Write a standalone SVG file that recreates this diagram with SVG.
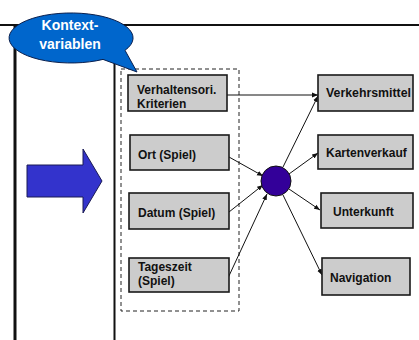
<svg xmlns="http://www.w3.org/2000/svg" width="419" height="340" viewBox="0 0 419 340">
<style>
.box{fill:#cccccc;stroke:#1a1a1a;stroke-width:1.6}
.t{font-family:"Liberation Sans",Arial,sans-serif;font-weight:bold;font-size:12px;fill:#111}
.c{stroke:#111;stroke-width:1;fill:none;marker-end:url(#ah)}
</style>
<defs>
<marker id="ah" viewBox="0 0 10 10" refX="10" refY="5" markerWidth="6" markerHeight="6" orient="auto" markerUnits="userSpaceOnUse">
<path d="M0,1 L10,5 L0,9 Z" fill="#111"/>
</marker>
</defs>
<rect width="419" height="340" fill="#ffffff"/>
<g id="frame">
<line x1="0" y1="25" x2="419" y2="25" stroke="#111" stroke-width="2"/>
<line x1="15" y1="25" x2="15" y2="340" stroke="#111" stroke-width="3"/>
<line x1="114.5" y1="25" x2="114.5" y2="340" stroke="#111" stroke-width="2"/>
<rect x="121" y="69" width="118" height="242" fill="none" stroke="#222" stroke-width="1" stroke-dasharray="4,3"/>
</g>
<g id="bigarrow">
<polygon points="27,165 83,165 83,149 102,181 83,213 83,197 27,197" fill="#3333cc" stroke="#1a1a55" stroke-width="1"/>
</g>
<g id="bubble">
<path d="M125,50.3 L137,72 L103,59.4 A62,25 0 1 1 125,50.3 Z" fill="#0066cc" stroke="#0a1f4d" stroke-width="1"/>
<text x="70" y="30" text-anchor="middle" font-family="'Liberation Sans',Arial,sans-serif" font-weight="bold" font-size="14" fill="#ffffff">Kontext-</text>
<text x="70" y="49" text-anchor="middle" font-family="'Liberation Sans',Arial,sans-serif" font-weight="bold" font-size="14" fill="#ffffff">variablen</text>
</g>
<g id="connectors">
<line class="c" x1="227" y1="95" x2="318" y2="95"/>
<line class="c" x1="229" y1="157" x2="263" y2="176"/>
<line class="c" x1="229" y1="212" x2="263" y2="185"/>
<line class="c" x1="228" y1="278" x2="267" y2="194"/>
<line class="c" x1="283" y1="167" x2="318" y2="96"/>
<line class="c" x1="289" y1="174" x2="318" y2="153"/>
<line class="c" x1="289" y1="189" x2="320" y2="210"/>
<line class="c" x1="283" y1="195" x2="322" y2="275"/>
</g>
<g id="hub">
<circle cx="276" cy="181" r="15" fill="#330099" stroke="#111" stroke-width="1"/>
</g>
<g id="n-verhalten">
<rect class="box" x="128" y="75" width="99" height="36"/>
<text class="t" x="137" y="94">Verhaltensori.</text>
<text class="t" x="137" y="108">Kriterien</text>
</g>
<g id="n-ort">
<rect class="box" x="130" y="135" width="99" height="35"/>
<text class="t" x="138" y="159">Ort (Spiel)</text>
</g>
<g id="n-datum">
<rect class="box" x="129" y="193" width="100" height="36"/>
<text class="t" x="138" y="216.5">Datum (Spiel)</text>
</g>
<g id="n-tageszeit">
<rect class="box" x="129" y="258" width="100" height="34"/>
<text class="t" x="138" y="271">Tageszeit</text>
<text class="t" x="138" y="285">(Spiel)</text>
</g>
<g id="n-verkehrsmittel">
<rect class="box" x="318" y="75" width="95" height="36"/>
<text class="t" x="326" y="96.5" textLength="85" lengthAdjust="spacingAndGlyphs">Verkehrsmittel</text>
</g>
<g id="n-kartenverkauf">
<rect class="box" x="318" y="135" width="95" height="34"/>
<text class="t" x="326" y="156.5">Kartenverkauf</text>
</g>
<g id="n-unterkunft">
<rect class="box" x="321" y="193" width="92" height="35"/>
<text class="t" x="333" y="216">Unterkunft</text>
</g>
<g id="n-navigation">
<rect class="box" x="322" y="258" width="88" height="37"/>
<text class="t" x="330" y="281.5">Navigation</text>
</g>
</svg>
